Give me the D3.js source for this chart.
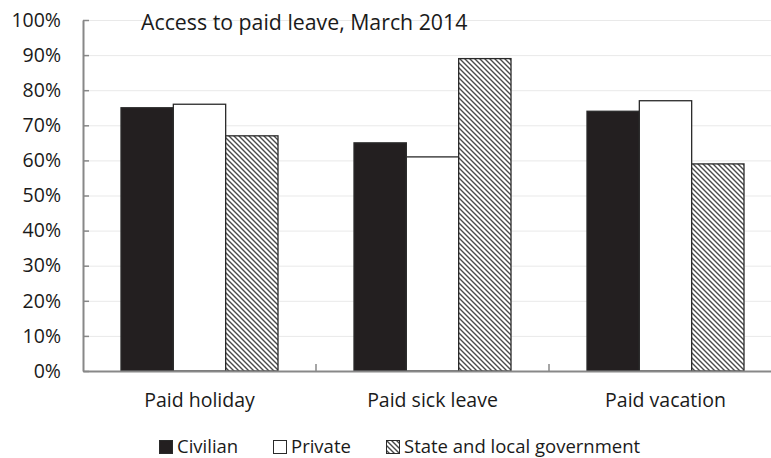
<!DOCTYPE html>
<html><head><meta charset="utf-8">
<script src="https://cdn.jsdelivr.net/npm/d3@7"></script>
<style>
body{margin:0;background:#fff;}
text{font-family:"Open Sans",sans-serif;fill:#1a1a1a;}
</style></head>
<body><svg id="c" width="771" height="458"></svg>
<script>
const title = "Access to paid leave, March 2014";
const categories = ["Paid holiday", "Paid sick leave", "Paid vacation"];
const seriesNames = ["Civilian", "Private", "State and local government"];
const civilian = [75, 65, 74];
const privateSector = [76, 61, 77];
const stateLocal = [67, 89, 59];
const yTickValues = [0, 10, 20, 30, 40, 50, 60, 70, 80, 90, 100];

(function(){
const seriesValues = [civilian, privateSector, stateLocal];
const svg = d3.select("#c");
const defs = svg.append("defs");
const pat = defs.append("pattern").attr("id","hatch").attr("patternUnits","userSpaceOnUse")
  .attr("width",5).attr("height",5);
pat.append("rect").attr("width",5).attr("height",5).attr("fill","#fff");
pat.append("path").attr("d","M0,0L5,5M-1,4L1,6M4,-1L6,1").attr("stroke","#4a4a4a").attr("stroke-width",1.4);

const fills = ["#231f20", "#ffffff", "url(#hatch)"];

const mLeft = 83, mBottom = 371, mTop = 20, bandW = 233;
const x = d3.scaleBand().domain(categories).range([mLeft, mLeft + bandW*3]).padding(0);
const x1 = d3.scaleBand().domain(seriesNames).range([38, bandW - 38]).padding(0);
const y = d3.scaleLinear().domain([0, 100]).range([mBottom, mTop]);

// gridlines
svg.append("g").attr("transform",`translate(${mLeft},0)`)
  .call(d3.axisLeft(y).tickValues(yTickValues.slice(1)).tickSize(-(771-mLeft)).tickFormat(""))
  .call(g=>g.select(".domain").remove())
  .call(g=>g.selectAll("line").attr("stroke","#e9e9e9").attr("stroke-width",1));

// bars
const groups = svg.append("g").selectAll("g").data(categories).join("g")
  .attr("transform", d=>`translate(${x(d)},0)`);
groups.selectAll("rect").data((d,i)=>seriesNames.map((s,j)=>({s, j, v: seriesValues[j][i]})))
  .join("rect")
  .attr("x", d=>x1(d.s)).attr("width", x1.bandwidth())
  .attr("y", d=>y(d.v)).attr("height", d=>y(0)-y(d.v))
  .attr("fill", d=>fills[d.j]).attr("stroke","#2a2a2a").attr("stroke-width",1.3);

// y axis
svg.append("g").attr("transform",`translate(${mLeft},0)`)
  .call(d3.axisLeft(y).tickValues(yTickValues).tickSizeInner(-6).tickSizeOuter(0).tickPadding(22).tickFormat(d=>d+"%"))
  .call(g=>g.select(".domain").attr("stroke","#888").attr("stroke-width",2))
  .call(g=>g.selectAll(".tick line").attr("stroke","#888").attr("stroke-width",1.5))
  .call(g=>g.selectAll("text").style("font-size","19.5px").attr("fill","#1a1a1a"));

// x axis
svg.append("g").attr("transform",`translate(0,${mBottom})`)
  .call(d3.axisBottom(x).tickSize(0).tickPadding(22))
  .call(g=>g.select(".domain").attr("stroke","#888").attr("stroke-width",2))
  .call(g=>g.selectAll("text").style("font-size","19.5px").attr("fill","#1a1a1a"));
svg.append("g").selectAll("line").data(categories.slice(1)).join("line")
  .attr("x1", d=>x(d)).attr("x2", d=>x(d)).attr("y1", mBottom-7).attr("y2", mBottom)
  .attr("stroke","#888").attr("stroke-width",1.5);

// title
svg.append("text").attr("x",141).attr("y",30).style("font-size","21.3px").text(title);

// legend
const legX = [159, 273, 386];
const leg = svg.append("g").selectAll("g").data(seriesNames).join("g")
  .attr("transform",(d,i)=>`translate(${legX[i]},440)`);
leg.append("rect").attr("x",0.5).attr("y",0.5).attr("width",13).attr("height",13)
  .attr("fill",(d,i)=>fills[i]).attr("stroke","#2a2a2a").attr("stroke-width",1);
leg.append("text").attr("x",18).attr("y",13).style("font-size","18.5px").text(d=>d);
})();
</script></body></html>
